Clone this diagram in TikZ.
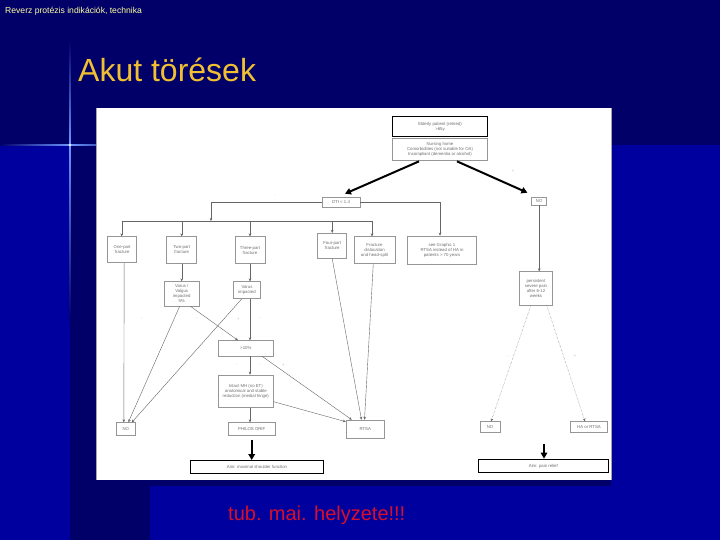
\documentclass[tikz,border=0pt]{standalone}
\usepackage{fontspec}
\setmainfont{Liberation Sans}
\usetikzlibrary{arrows.meta,calc}
\definecolor{navy}{RGB}{0,0,104}
\definecolor{midblue}{RGB}{0,0,158}
\definecolor{glow}{RGB}{110,150,255}
\definecolor{titleyel}{RGB}{255,255,160}
\definecolor{headyel}{RGB}{240,192,50}
\definecolor{redtxt}{RGB}{215,15,40}
\definecolor{boxline}{RGB}{150,150,150}
\definecolor{boxtext}{RGB}{110,110,110}
\begin{document}
\begin{tikzpicture}[x=1pt,y=-1pt,
  fbox/.style={draw=boxline, line width=0.6pt, fill=white, text=boxtext, align=center,
    inner sep=0pt, font=\fontsize{4.3}{5}\selectfont},
  aimbox/.style={fbox, draw=black, line width=1.3pt},
  thin arrow/.style={draw=gray!80!black, line width=0.4pt, -{Stealth[length=3pt,width=2.6pt]}},
  thick arrow/.style={draw=black, line width=2pt, -{Triangle[length=6pt,width=6.5pt]}},
  tinymark/.style={text=gray!60, font=\fontsize{4}{4}\selectfont, inner sep=0pt}
]
\useasboundingbox (0,0) rectangle (720,540);
% background
\fill[midblue] (0,0) rectangle (720,540);
\fill[navy] (0,0) rectangle (720,145);
\fill[navy] (70,145) rectangle (150,540);
\shade[left color=navy, right color=glow] (0,144.2) rectangle (70,145.8);
\shade[left color=glow, right color=glow!60!navy] (70,144.2) rectangle (96,145.8);
\shade[top color=navy, bottom color=glow] (69.2,40) rectangle (70.8,145);
\shade[top color=glow, bottom color=navy] (69.2,145) rectangle (70.8,320);
\fill[white, opacity=0.9] (70,145) circle (1.3);
% picture panel
\fill[white] (96,108) rectangle (611,480);
\draw[gray!70, line width=0.6pt] (96,108) -- (96,480) (611,108) -- (611,480);
\fill[navy] (96,480) rectangle (611,486);
% texts
\node[anchor=west, text=titleyel, font=\fontsize{8.6}{10}\selectfont, inner sep=0pt] (title) at (5,11) {Reverz protézis indikációk, technika};
\node[anchor=base west, text=headyel, font=\fontsize{32}{36}\selectfont, inner sep=0pt] (head) at (78,82) {Akut törések};
\node[anchor=base west, text=redtxt, font=\fontsize{20}{24}\selectfont, inner sep=0pt] (tub) at (228,520.5) {tub. mai. helyzete!!!};
% flowchart boxes
\node[aimbox, minimum width=94.6pt, minimum height=20pt] (elderly) at (440,126.7) {Elderly patient (retired)\\>65y};
\node[fbox, minimum width=94.6pt, minimum height=21.7pt] (nursing) at (440,149.2) {Nursing home\\Comorbidities (not suitable for OA)\\Incompliant (dementia or alcohol)};
\node[fbox, minimum width=38pt, minimum height=10pt] (dti) at (341,202) {DTI < 1.4};
\node[fbox, minimum width=15pt, minimum height=8pt] (no1) at (539.2,201) {NO};
\node[fbox, minimum width=29pt, minimum height=26pt] (one) at (122.2,249.7) {One-part\\fracture};
\node[fbox, minimum width=30pt, minimum height=26.6pt] (two) at (181.7,250) {Two-part\\fracture};
\node[fbox, minimum width=30pt, minimum height=26.6pt] (three) at (250,250) {Three-part\\fracture};
\node[fbox, minimum width=29pt, minimum height=25pt] (four) at (332.2,245.8) {Four-part\\fracture};
\node[fbox, minimum width=41pt, minimum height=26.6pt] (fdis) at (374.5,250) {Fracture\\dislocation\\and head-split};
\node[fbox, minimum width=69.4pt, minimum height=28pt] (graphic) at (442,250) {see Graphic 1\\RTSA instead of HA in\\patients > 70 years};
\node[fbox, minimum width=33.4pt, minimum height=33.3pt] (persist) at (536,288.3) {persistent\\severe pain\\after 6-12\\weeks};
\node[fbox, minimum width=34.7pt, minimum height=24.3pt] (valgus) at (181.7,293.8) {Varus /\\Valgus\\impacted\\5\%};
\node[fbox, minimum width=27.4pt, minimum height=16.6pt] (varus) at (247,290) {Varus\\impacted};
\node[fbox, minimum width=55pt, minimum height=15.3pt] (gt10) at (245.8,348.3) {>10\%};
\node[fbox, minimum width=55pt, minimum height=32.3pt] (hsplit) at (245.8,391.2) {Intact MH (no ET)\\anatomical and stable\\reduction (medial hinge)};
\node[fbox, minimum width=18.3pt, minimum height=12.3pt] (no2) at (125.8,428.8) {NO};
\node[fbox, minimum width=46.7pt, minimum height=12.3pt] (philos) at (251.7,428.8) {PHILOS ORIF};
\node[fbox, minimum width=38.3pt, minimum height=18.3pt] (rtsa) at (365.2,429.2) {RTSA};
\node[aimbox, minimum width=132.6pt, minimum height=12.6pt] (aim1) at (257,467) {Aim: maximal shoulder function};
\node[fbox, minimum width=20pt, minimum height=11pt] (no3) at (490,427.2) {NO};
\node[fbox, minimum width=36.6pt, minimum height=11pt] (ha) at (589,427.2) {HA or RTSA};
\node[aimbox, minimum width=130pt, minimum height=13.4pt] (aim2) at (543.3,466) {Aim: pain relief};
% helper coordinates
\coordinate (busL) at (121.7,221);
\coordinate (busR) at (372,221);
\coordinate (busJ) at (211,221);
\coordinate (gtop) at (440,0);
\coordinate (pstart) at (544,443.5);
\coordinate (phstart) at ($(philos.south)+(0,5)$);
% thick arrows
\draw[thick arrow] ($(nursing.south)+(-21,1)$) -- ($(dti.north)+(4,-3)$);
\draw[thick arrow] ($(nursing.south)+(17,1)$) -- ($(no1.north west)+(-4,-4)$);
\draw[thick arrow] (phstart) -- (phstart |- aim1.north);
\draw[thick arrow] (pstart) -- (pstart |- aim2.north);
% thin connectors
\draw[thin arrow] (dti.west) -| (busJ);
\draw[draw=gray!80!black, line width=0.4pt] (busL) -- (busR);
\draw[thin arrow] (busL) -- (busL |- one.north);
\draw[thin arrow] (two.north |- busL) -- (two.north);
\draw[thin arrow] (three.north |- busL) -- (three.north);
\draw[thin arrow] (four.north |- busL) -- (four.north);
\draw[thin arrow] (busR) -- (busR |- fdis.north);
\draw[thin arrow] (dti.east) -| (gtop |- graphic.north);
\draw[thin arrow] (no1.south) -- (no1.south |- persist.north);
\draw[thin arrow] ($(one.south)+(2,0)$) -- ($(no2.north)+(-2,0)$);
\draw[thin arrow] (two.south) -- (valgus.north);
\draw[thin arrow] (three.south) -- (three.south |- varus.north);
\draw[thin arrow] ($(valgus.south)+(-2,0)$) -- ($(no2.north)+(2.5,0)$);
\draw[thin arrow] ($(valgus.south east)+(-9,0)$) -- ($(gt10.north west)+(20,0)$);
\draw[thin arrow] ($(varus.south)+(-5,0)$) -- ($(no2.north)+(6,0)$);
\draw[thin arrow] ($(varus.south)+(3,0)$) -- ($(gt10.north)+(4.2,0)$);
\draw[thin arrow] ($(gt10.south)+(4.2,0)$) -- ($(hsplit.north)+(4.2,0)$);
\draw[thin arrow] ($(gt10.south east)+(-11.6,0)$) -- ($(rtsa.north west)+(6,0)$);
\draw[thin arrow] ($(hsplit.east)+(0,10.5)$) -- ($(rtsa.west)+(0,-7.5)$);
\draw[thin arrow] ($(hsplit.south)+(4.2,0)$) -- ($(philos.north)+(-1.7,0)$);
\draw[thin arrow] (four.south) -- ($(rtsa.north)+(-3.7,0)$);
\draw[thin arrow] ($(fdis.south)+(-1.2,0)$) -- ($(rtsa.north)+(-0.7,0)$);
\draw[thin arrow, densely dotted] ($(persist.south)+(-5,0)$) -- ($(no3.north)+(1,0)$);
\draw[thin arrow, densely dotted] ($(persist.south)+(10.7,0)$) -- ($(ha.north)+(-4,0)$);
% tiny marks
\node[tinymark] (m1) at (141.7,319.3) {-};
\node[tinymark] (m2) at (196.7,319.3) {-};
\node[tinymark] (m3) at (238.3,319.3) {+};
\node[tinymark] (m4) at (260,319.3) {-};
\node[tinymark] (m5) at (236.7,365) {-};
\node[tinymark] (m6) at (260,365) {-};
\node[tinymark] (m7) at (283.3,365) {+};
\node[tinymark] (m8) at (303.3,415) {-};
\node[tinymark] (m9) at (508.3,356.7) {-};
\node[tinymark] (m10) at (575,356.7) {+};
\node[tinymark] (m11) at (513,171.7) {+};
\node[tinymark] (m12) at (275,196) {-};
\end{tikzpicture}
\end{document}
